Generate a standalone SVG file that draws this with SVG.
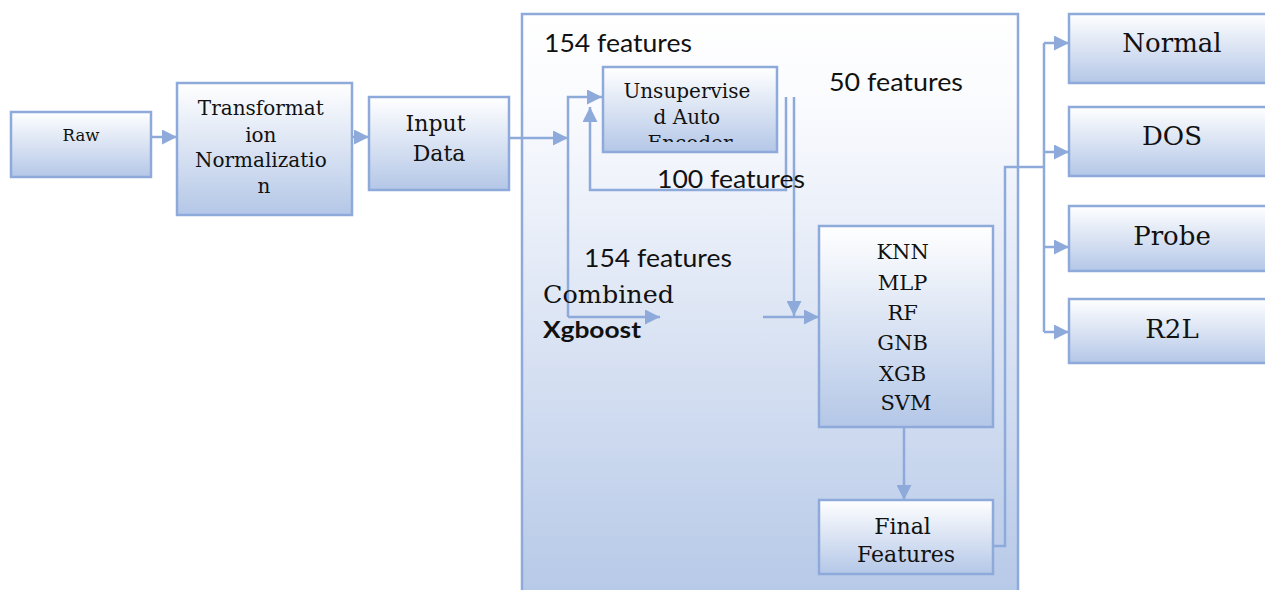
<svg xmlns="http://www.w3.org/2000/svg" width="1265" height="590" viewBox="0 0 1265 590">
  <defs>
    <linearGradient id="boxGrad" x1="0" y1="0" x2="0" y2="1">
      <stop offset="0" stop-color="#ffffff"/>
      <stop offset="1" stop-color="#b4c7e7"/>
    </linearGradient>
    <linearGradient id="bigGrad" x1="0" y1="0" x2="0" y2="1">
      <stop offset="0" stop-color="#ffffff"/>
      <stop offset="0.15" stop-color="#fafbfe"/>
      <stop offset="1" stop-color="#b4c7e7"/>
    </linearGradient>
    <marker id="arr" viewBox="0 0 10 10" refX="10" refY="5" markerWidth="15" markerHeight="15" markerUnits="userSpaceOnUse" orient="auto">
      <path d="M0,0 L10,5 L0,10 z" fill="#8eaadb"/>
    </marker>
    <clipPath id="aeClip">
      <rect x="603" y="67" width="174" height="75"/>
    </clipPath>
    <style>
      .box { fill: url(#boxGrad); stroke: #8eaadb; stroke-width: 2.5; }
      .big { fill: url(#bigGrad); stroke: #8eaadb; stroke-width: 2.5; }
      .serif { font-family: "DejaVu Serif", "Liberation Serif", serif; fill: #111; }
      .sans { font-family: Lato, "Open Sans", "Liberation Sans", sans-serif; fill: #111; }
      .ln { fill: none; stroke: #8eaadb; stroke-width: 2.5; }
      .ar { fill: none; stroke: #8eaadb; stroke-width: 2.5; marker-end: url(#arr); }
    </style>
  </defs>

  <g id="container">
    <rect class="big" x="522" y="14" width="496" height="600"/>
  </g>

  <g id="raw">
    <rect class="box" x="11" y="112" width="140" height="65"/>
    <text class="serif" x="81" y="141" font-size="16.5" text-anchor="middle">Raw</text>
  </g>

  <g id="transformation">
    <rect class="box" x="177" y="83" width="175" height="132"/>
    <text class="serif" font-size="20" text-anchor="middle">
      <tspan x="264" y="115">Transformat</tspan>
      <tspan x="264" y="142">ion</tspan>
      <tspan x="264" y="167">Normalizatio</tspan>
      <tspan x="264" y="193">n</tspan>
    </text>
  </g>

  <g id="input-data">
    <rect class="box" x="369" y="97" width="140" height="93"/>
    <text class="serif" font-size="22" text-anchor="middle">
      <tspan x="439" y="131">Input</tspan>
      <tspan x="439" y="161">Data</tspan>
    </text>
  </g>

  <g id="autoencoder">
    <rect class="box" x="603" y="67" width="174" height="85"/>
    <text class="serif" font-size="20" text-anchor="middle" clip-path="url(#aeClip)">
      <tspan x="690" y="98">Unsupervise</tspan>
      <tspan x="690" y="124">d Auto</tspan>
      <tspan x="690" y="150">Encoder</tspan>
    </text>
  </g>

  <g id="classifiers">
    <rect class="box" x="819" y="226" width="174" height="201"/>
    <text class="serif" font-size="21" text-anchor="middle">
      <tspan x="906" y="259">KNN</tspan>
      <tspan x="906" y="290">MLP</tspan>
      <tspan x="906" y="320">RF</tspan>
      <tspan x="906" y="350">GNB</tspan>
      <tspan x="906" y="381">XGB</tspan>
      <tspan x="906" y="410">SVM</tspan>
    </text>
  </g>

  <g id="final-features">
    <rect class="box" x="819" y="500" width="174" height="74"/>
    <text class="serif" font-size="22" text-anchor="middle">
      <tspan x="906" y="534">Final</tspan>
      <tspan x="906" y="562">Features</tspan>
    </text>
  </g>

  <g id="normal">
    <rect class="box" x="1069" y="14" width="210" height="69"/>
    <text class="serif" x="1172" y="52" font-size="26" text-anchor="middle">Normal</text>
  </g>
  <g id="dos">
    <rect class="box" x="1069" y="107" width="210" height="69"/>
    <text class="serif" x="1172" y="145" font-size="26" text-anchor="middle">DOS</text>
  </g>
  <g id="probe">
    <rect class="box" x="1069" y="206" width="210" height="65"/>
    <text class="serif" x="1172" y="245" font-size="26" text-anchor="middle">Probe</text>
  </g>
  <g id="r2l">
    <rect class="box" x="1069" y="299" width="210" height="64"/>
    <text class="serif" x="1172" y="338" font-size="26" text-anchor="middle">R2L</text>
  </g>

  <g id="connectors">
    <line class="ar" x1="151" y1="137" x2="177" y2="137"/>
    <line class="ar" x1="352" y1="137" x2="369" y2="137"/>
    <line class="ar" x1="509" y1="138" x2="568" y2="138"/>
    <polyline class="ar" points="568,317 568,97 602,97"/>
    <line class="ar" x1="568" y1="317" x2="660" y2="317"/>
    <polyline class="ar" points="786,97 786,190 590,190 590,107"/>
    <line class="ar" x1="794" y1="97" x2="794" y2="316"/>
    <line class="ar" x1="763" y1="317" x2="819" y2="317"/>
    <line class="ar" x1="904" y1="427" x2="904" y2="500"/>
    <polyline class="ln" points="993,546 1005,546 1005,167 1044,167"/>
    <polyline class="ln" points="1044,43 1044,332"/>
    <line class="ar" x1="1044" y1="43" x2="1069" y2="43"/>
    <line class="ar" x1="1044" y1="152" x2="1069" y2="152"/>
    <line class="ar" x1="1044" y1="247" x2="1069" y2="247"/>
    <line class="ar" x1="1044" y1="332" x2="1069" y2="332"/>
  </g>

  <g id="labels">
    <text class="sans" x="544" y="52" font-size="25" textLength="148" lengthAdjust="spacingAndGlyphs">154 features</text>
    <text class="sans" x="829" y="91" font-size="25" textLength="134" lengthAdjust="spacingAndGlyphs">50 features</text>
    <text class="sans" x="657" y="188" font-size="25" textLength="148" lengthAdjust="spacingAndGlyphs">100 features</text>
    <text class="sans" x="584" y="267" font-size="25" textLength="148" lengthAdjust="spacingAndGlyphs">154 features</text>
    <text class="serif" x="543" y="303" font-size="24" textLength="131" lengthAdjust="spacingAndGlyphs">Combined</text>
    <text class="sans" x="543" y="338" font-size="23" font-weight="bold" textLength="98" lengthAdjust="spacingAndGlyphs">Xgboost</text>
  </g>
</svg>
